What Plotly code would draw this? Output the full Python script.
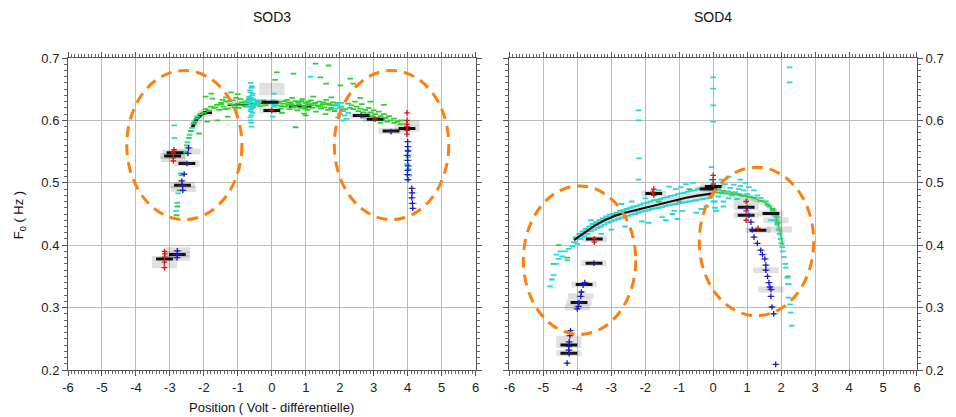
import plotly.graph_objects as go

# ---------------- DATA ----------------
# SOD3 panel
sod3_green_x = [-2.80, -2.78, -2.72, -2.66, -2.60, -2.55, -2.50, -2.44, -2.38, -2.30, -2.22, -2.10, -2.00, -1.95,
                -1.85, -1.80, -1.70, -1.62, -1.55, -1.50, -1.42, -1.35, -1.30, -1.22, -1.15, -1.10, -1.00, -0.92,
                -0.85, -0.80, -0.70, -0.60, -0.50, -0.40, -0.30, -1.95, -1.78, -1.60, -1.35, -1.20, -2.14, -1.90,
                -1.30, -1.00, -1.75, -1.45, -1.05, -0.75,
                -1.65, -1.48, -1.38, -1.25, -1.12, -0.98, -0.88, -0.78, -0.68, -0.55, -0.45, -0.35, -0.25, -0.18,
                0.12, 0.20, 0.25, 0.33, 0.40, 0.45, 0.52, 0.58, 0.63, 0.70, 0.75, 0.80, 0.86, 0.90, 0.95, 1.00,
                1.05, 1.10, 1.15, 1.20, 1.25, 1.30, 1.35, 1.40, 1.45, 1.50, 1.55, 1.60, 1.65, 1.70, 1.75, 1.80,
                1.85, 1.90, 0.30, 0.60, 0.95, 1.22, 1.58, 1.75, 0.50, 0.85, 1.05, 1.38, 1.68,
                0.18, 0.28, 0.38, 0.48, 0.55, 0.68, 0.78, 0.88, 0.98, 1.08, 1.18, 1.28, 1.42, 1.52, 1.62, 1.72,
                1.82, 1.92, 2.05, 2.15,
                2.25, 2.30, 2.35, 2.40, 2.50, 2.55, 2.60, 2.70, 2.75, 2.80, 2.90, 2.95, 3.05, 3.10, 3.20, 3.25,
                3.35, 3.40, 3.50, 3.60, 3.70, 3.80, 2.45, 2.65, 2.85, 3.00, 3.15, 3.30, 3.45, 3.60, 2.70, 3.20,
                0.64, 1.29, 1.67, 1.43, 1.60, 2.02, 2.31, 2.40, 0.10, 0.15, 0.70, 1.00, 2.60, 2.90, 3.30, 3.80]
sod3_green_y = [0.448, 0.462, 0.488, 0.512, 0.530, 0.548, 0.560, 0.572, 0.583, 0.595, 0.603, 0.610, 0.612, 0.618,
                0.615, 0.622, 0.620, 0.625, 0.617, 0.628, 0.622, 0.630, 0.619, 0.626, 0.632, 0.621, 0.627, 0.634,
                0.624, 0.630, 0.628, 0.633, 0.626, 0.631, 0.629, 0.638, 0.643, 0.600, 0.637, 0.645, 0.579, 0.598,
                0.606, 0.642, 0.635, 0.633, 0.636, 0.622,
                0.621, 0.626, 0.618, 0.631, 0.624, 0.620, 0.629, 0.623, 0.634, 0.621, 0.627, 0.623, 0.632, 0.624,
                0.624, 0.630, 0.619, 0.627, 0.622, 0.633, 0.618, 0.626, 0.621, 0.631, 0.616, 0.625, 0.620, 0.634,
                0.623, 0.628, 0.617, 0.626, 0.632, 0.620, 0.627, 0.614, 0.624, 0.630, 0.619, 0.626, 0.621, 0.633,
                0.617, 0.625, 0.620, 0.629, 0.615, 0.624, 0.612, 0.636, 0.611, 0.638, 0.610, 0.637, 0.628, 0.630,
                0.624, 0.622, 0.627,
                0.628, 0.623, 0.631, 0.625, 0.629, 0.622, 0.628, 0.631, 0.619, 0.630, 0.624, 0.628, 0.623, 0.629,
                0.626, 0.618, 0.624, 0.628, 0.622, 0.618,
                0.627, 0.620, 0.624, 0.618, 0.622, 0.615, 0.619, 0.613, 0.617, 0.610, 0.613, 0.607, 0.610, 0.604,
                0.607, 0.601, 0.604, 0.598, 0.600, 0.596, 0.598, 0.594, 0.630, 0.626, 0.620, 0.616, 0.614, 0.610,
                0.607, 0.603, 0.605, 0.596,
                0.675, 0.691, 0.688, 0.669, 0.659, 0.656, 0.667, 0.659, 0.665, 0.677, 0.589, 0.608, 0.636, 0.630,
                0.625, 0.600]
sod3_cyan_x = [-2.82, -2.79, -2.76, -2.72, -2.68, -2.62, -2.56, -2.48, -2.42, -2.35, -2.28, -2.20, -2.87, -2.87,
               -0.62, -0.60, -0.63, -0.58, -0.61, -0.55, -0.65, -0.50, -0.70, -0.60, -0.58, -0.62, -0.60, -0.62,
               -0.60, -0.45, -0.75, -0.40, -0.30, -0.20, -0.66, -0.57,
               -0.64, -0.59, -0.56, -0.66, -0.53, -0.68, -0.61, -0.57, -0.63, -0.60,
               0.06, 0.04, 0.07, 0.05, 0.03, 0.08, 1.14,
               1.90, 2.00, 2.10, 2.00, 2.15, 1.95, 2.20, 2.05, 2.10, 1.85, 2.25, 2.02,
               4.00, 4.02, 3.98, 4.03, 4.05, 3.98]
sod3_cyan_y = [0.455, 0.468, 0.483, 0.497, 0.515, 0.533, 0.550, 0.565, 0.577, 0.588, 0.598, 0.606, 0.592, 0.572,
               0.660, 0.652, 0.645, 0.640, 0.636, 0.634, 0.630, 0.628, 0.627, 0.625, 0.620, 0.615, 0.608, 0.600,
               0.590, 0.632, 0.631, 0.627, 0.630, 0.628, 0.638, 0.622,
               0.648, 0.655, 0.643, 0.637, 0.624, 0.622, 0.618, 0.612, 0.605, 0.596,
               0.643, 0.632, 0.622, 0.614, 0.606, 0.625, 0.670,
               0.625, 0.620, 0.615, 0.610, 0.608, 0.605, 0.603, 0.628, 0.600, 0.618, 0.612, 0.622,
               0.552, 0.541, 0.530, 0.522, 0.512, 0.505]
sod3_blackline_x = [-2.34, -2.20, -2.05, -1.90, -1.76]
sod3_blackline_y = [0.589, 0.603, 0.611, 0.613, 0.613]
sod3_bandline_x = [-1.30, -1.00, -0.70, -0.40, -0.10]
sod3_bandline_y = [0.624, 0.625, 0.626, 0.627, 0.628]
sod3_band2_x = [0.50, 0.80, 1.17]
sod3_band2_y = [0.622, 0.623, 0.622]
sod3_bar_x = [-0.05, 0.00, 2.63, 3.04, 3.51, 3.98, -2.92, -2.85, -2.50, -2.63, -2.78, -3.16]
sod3_bar_y = [0.629, 0.616, 0.608, 0.602, 0.583, 0.587, 0.543, 0.548, 0.531, 0.496, 0.385, 0.378]
sod3_ghost_x = [0.00, 0.00, -2.47, -2.60, -2.78, -2.78, -3.16, 3.98, -2.90]
sod3_ghost_y = [0.655, 0.645, 0.550, 0.490, 0.392, 0.380, 0.368, 0.596, 0.538]
sod3_red_x = [-2.90, -2.90, -2.88, -2.90, 0.00, 3.04, 3.98, 3.98, 3.98, 3.98, 3.98, 3.98,
              -3.16, -3.16, -3.16, -3.16, -3.15]
sod3_red_y = [0.548, 0.540, 0.553, 0.535, 0.616, 0.602, 0.590, 0.584, 0.600, 0.612, 0.578, 0.594,
              0.390, 0.381, 0.373, 0.364, 0.386]
sod3_blue_x = [-2.47, -2.45, -2.50, -2.58, -2.63, -2.62, -2.65, 2.63, 3.51,
               4.00, 4.00, 4.01, 3.99, 4.00, 4.01, 4.00, 3.99, 4.01,
               4.12, 4.13, 4.12, 4.14, 4.15, -2.78, -2.78, -2.79]
sod3_blue_y = [0.547, 0.556, 0.531, 0.514, 0.496, 0.488, 0.503, 0.608, 0.582,
               0.566, 0.558, 0.551, 0.544, 0.536, 0.527, 0.520, 0.513, 0.505,
               0.491, 0.484, 0.476, 0.467, 0.459, 0.385, 0.391, 0.380]

# SOD4 panel
sod4_green_x = [-4.55, -4.30, -4.70, -1.00, -0.70, -2.30, -1.60,
                0.30, 0.60, 0.90, 1.20, 1.40, 1.60, 1.75, 1.85, 1.90, 2.20, 2.22, 0.15, 0.45, 0.75, 1.05]
sod4_green_y = [0.400, 0.380, 0.370, 0.470, 0.490, 0.455, 0.470,
                0.487, 0.484, 0.480, 0.476, 0.471, 0.465, 0.458, 0.447, 0.436, 0.350, 0.338, 0.489, 0.486, 0.482, 0.478]
sod4_cyan_x = [-4.80, -4.75, -4.70, -4.62, -4.55, -4.45, -4.35, -4.25, -4.15, -4.50, -4.62, -4.30,
               -4.10, -4.05, -4.00, -3.95, -3.90, -3.85, -3.80, -3.75, -3.70, -3.65, -3.60, -3.55, -3.50, -3.45,
               -3.40, -3.35, -3.30, -3.25, -3.20, -3.15, -3.10, -3.05, -3.00, -2.95, -2.90, -2.85, -2.80, -2.75,
               -2.70, -2.65, -2.60, -2.55, -2.50, -2.45, -2.40, -2.35, -2.30, -2.25, -2.20, -2.15, -2.10, -2.05,
               -2.00, -1.95, -1.90, -1.85, -1.80, -1.75, -1.70, -1.65, -1.60, -1.55, -1.50, -1.45, -1.40, -1.35,
               -1.30, -1.25, -1.20, -1.15, -1.10, -1.05, -1.00, -0.95, -0.90, -0.85, -0.80, -0.75, -0.70, -0.65,
               -0.60, -0.55, -0.50, -0.45, -0.40, -0.35, -0.30, -0.25, -0.20, -0.15, -0.10,
               -2.60, -2.10, -1.50, -1.20, -0.90, -1.60, -1.30, -0.80, -0.60, -2.00, -2.40, -1.05, -0.35, -1.90,
               -3.00, -3.30, -0.20, -0.05, 0.05, -0.50, -1.10, -1.40, -2.70, -3.60, -1.15, -0.95,
               -2.20, -2.20, -2.18, -2.20, 0.00, 0.00, 0.00, 0.00, 2.25, 2.25, -0.05,
               0.10, 0.15, 0.20, 0.25, 0.30, 0.35, 0.40, 0.45, 0.50, 0.55, 0.60, 0.65, 0.70, 0.75, 0.80, 0.85,
               0.90, 0.95, 1.00, 1.05, 1.10, 0.05, 0.10, 0.30, 0.00, -0.05, 0.00, 0.02, 0.25, 0.45, 0.80, 1.20,
               1.30, 1.40,
               1.55, 1.65, 1.75, 1.80, 1.85, 1.88, 1.92, 1.95, 1.98, 2.00, 2.03, 2.05, 2.08, 2.12, 2.14, 2.18,
               2.20, 2.22, 2.26, 2.28, 2.31, 1.70, 1.90]
sod4_cyan_y = [0.334, 0.345, 0.352, 0.370, 0.378, 0.382, 0.390, 0.394, 0.398, 0.390, 0.385, 0.376,
               0.405, 0.412, 0.402, 0.418, 0.410, 0.422, 0.414, 0.426, 0.418, 0.430, 0.422, 0.434, 0.425, 0.437,
               0.428, 0.440, 0.430, 0.443, 0.433, 0.446, 0.436, 0.449, 0.438, 0.450, 0.440, 0.452, 0.442, 0.455,
               0.444, 0.456, 0.445, 0.458, 0.447, 0.460, 0.449, 0.462, 0.450, 0.463, 0.452, 0.465, 0.454, 0.467,
               0.455, 0.468, 0.456, 0.470, 0.458, 0.472, 0.459, 0.473, 0.460, 0.474, 0.461, 0.476, 0.463, 0.477,
               0.464, 0.479, 0.465, 0.480, 0.466, 0.482, 0.467, 0.483, 0.468, 0.484, 0.469, 0.486, 0.470, 0.487,
               0.471, 0.488, 0.472, 0.490, 0.473, 0.491, 0.474, 0.492, 0.475, 0.494, 0.476,
               0.430, 0.438, 0.445, 0.450, 0.455, 0.488, 0.494, 0.498, 0.500, 0.475, 0.470, 0.442, 0.458, 0.436,
               0.425, 0.418, 0.462, 0.505, 0.470, 0.452, 0.490, 0.440, 0.466, 0.440, 0.455, 0.493,
               0.616, 0.600, 0.539, 0.505, 0.669, 0.651, 0.624, 0.598, 0.685, 0.661, 0.525,
               0.490, 0.478, 0.495, 0.484, 0.470, 0.498, 0.486, 0.475, 0.492, 0.480, 0.497, 0.485, 0.474, 0.490,
               0.495, 0.479, 0.488, 0.500, 0.482, 0.493, 0.478, 0.460, 0.455, 0.462, 0.470, 0.480, 0.490, 0.500,
               0.505, 0.510, 0.505, 0.488, 0.480, 0.476,
               0.470, 0.462, 0.455, 0.448, 0.440, 0.433, 0.425, 0.418, 0.410, 0.403, 0.397, 0.390, 0.381, 0.370,
               0.364, 0.348, 0.338, 0.316, 0.305, 0.292, 0.271, 0.440, 0.445]
sod4_blackline_x = [-4.10, -3.80, -3.50, -3.20, -2.90, -2.60, -2.30, -2.00, -1.70, -1.40, -1.10, -0.80, -0.50,
                    -0.20, 0.00]
sod4_blackline_y = [0.408, 0.420, 0.431, 0.440, 0.447, 0.452, 0.456, 0.461, 0.465, 0.469, 0.473, 0.476, 0.479,
                    0.482, 0.483]
sod4_arm_x = [0.00, 0.67, 1.17, 1.55, 1.79, 1.93, 2.05]
sod4_arm_y = [0.485, 0.481, 0.476, 0.468, 0.456, 0.430, 0.400]
sod4_bar_x = [0.00, -0.15, 0.97, 0.97, 1.32, 1.70, -1.75, -3.50, -3.51, -3.80, -3.95, -4.25, -4.25]
sod4_bar_y = [0.494, 0.490, 0.461, 0.448, 0.424, 0.451, 0.483, 0.410, 0.371, 0.337, 0.308, 0.240, 0.227]
sod4_ghost_x = [1.70, 1.55, -4.00, -3.90, 1.85, 1.95, -4.25, 0.97]
sod4_ghost_y = [0.329, 0.360, 0.300, 0.318, 0.440, 0.425, 0.250, 0.470]
sod4_red_x = [-1.75, -1.75, -1.78, -3.50, -3.50, 0.00, 0.00, 0.00, 0.97, 0.97, 0.97, 1.32]
sod4_red_y = [0.490, 0.480, 0.485, 0.410, 0.405, 0.505, 0.512, 0.498, 0.470, 0.455, 0.440, 0.427]
sod4_blue_x = [-3.51, -3.78, -3.83, -3.88, -3.90, -3.95, -3.97, -4.00, -4.20, -4.22, -4.24, -4.25, -4.25,
               -4.24, -4.30,
               1.00, 1.05, 1.11, 1.15, 1.20, 1.30, 1.40, 1.45, 1.52, 1.55, 1.55, 1.60, 1.64, 1.67, 1.70, 1.70,
               1.73, 1.78, 1.84]
sod4_blue_y = [0.371, 0.340, 0.336, 0.325, 0.318, 0.308, 0.302, 0.298, 0.263, 0.255, 0.245, 0.238, 0.232,
               0.226, 0.211,
               0.460, 0.448, 0.437, 0.425, 0.413, 0.403, 0.392, 0.385, 0.378, 0.368, 0.360, 0.350, 0.340, 0.333,
               0.329, 0.318, 0.301, 0.290, 0.209]

# orange dashed ellipses: [x0, x1, y0, y1]
sod3_ellipses = [[-4.27, -0.88, 0.441, 0.680], [1.84, 5.21, 0.441, 0.680]]
sod4_ellipses = [[-5.59, -2.28, 0.257, 0.495], [-0.41, 2.96, 0.287, 0.525]]

x_ticks = [-6, -5, -4, -3, -2, -1, 0, 1, 2, 3, 4, 5, 6]
y_ticks = [0.2, 0.3, 0.4, 0.5, 0.6, 0.7]

# ---------------- FIGURE ----------------
fig = go.Figure()

GREEN = "#2ccf2c"
CYAN = "#25d8d8"
RED = "#d01818"
BLUE = "#1818c8"


def add_panel(xa, ya, gx, gy, cx, cy, lines, bx, by, hx, hy, rx, ry, blx, bly, cyan_over_black):
    # gray halos
    fig.add_trace(go.Scatter(x=bx + hx, y=by + hy, mode="markers", xaxis=xa, yaxis=ya,
                             marker=dict(symbol="line-ew", size=18,
                                         line=dict(width=6, color="rgba(0,0,0,0.12)")),
                             hoverinfo="skip"))
    for lx, ly, w, col in lines:
        fig.add_trace(go.Scatter(x=lx, y=ly, mode="lines", xaxis=xa, yaxis=ya,
                                 line=dict(color="rgba(0,0,0,0.12)", width=w + 5), hoverinfo="skip"))
    if not cyan_over_black:
        for lx, ly, w, col in lines:
            fig.add_trace(go.Scatter(x=lx, y=ly, mode="lines", xaxis=xa, yaxis=ya,
                                     line=dict(color=col, width=w), hoverinfo="skip"))
    fig.add_trace(go.Scatter(x=gx, y=gy, mode="markers", xaxis=xa, yaxis=ya,
                             marker=dict(symbol="line-ew", size=4, line=dict(width=1.8, color=GREEN))))
    fig.add_trace(go.Scatter(x=cx, y=cy, mode="markers", xaxis=xa, yaxis=ya,
                             marker=dict(symbol="line-ew", size=4, line=dict(width=1.8, color=CYAN))))
    if cyan_over_black:
        for lx, ly, w, col in lines:
            fig.add_trace(go.Scatter(x=lx, y=ly, mode="lines", xaxis=xa, yaxis=ya,
                                     line=dict(color=col, width=w), hoverinfo="skip"))
    fig.add_trace(go.Scatter(x=bx, y=by, mode="markers", xaxis=xa, yaxis=ya,
                             marker=dict(symbol="line-ew", size=12, line=dict(width=3, color="#111"))))
    fig.add_trace(go.Scatter(x=rx, y=ry, mode="markers", xaxis=xa, yaxis=ya,
                             marker=dict(symbol="cross-thin", size=4, line=dict(width=1.3, color=RED))))
    fig.add_trace(go.Scatter(x=blx, y=bly, mode="markers", xaxis=xa, yaxis=ya,
                             error_x=dict(type="constant", value=0.13, color="rgba(90,90,90,0.5)",
                                          thickness=1, width=0),
                             marker=dict(symbol="cross-thin", size=4, line=dict(width=1.3, color=BLUE))))


add_panel("x", "y", sod3_green_x, sod3_green_y, sod3_cyan_x, sod3_cyan_y,
          [(sod3_blackline_x, sod3_blackline_y, 3.5, "#111"), (sod3_bandline_x, sod3_bandline_y, 1.2, "#111"),
           (sod3_band2_x, sod3_band2_y, 2, "#111")],
          sod3_bar_x, sod3_bar_y, sod3_ghost_x, sod3_ghost_y, sod3_red_x, sod3_red_y,
          sod3_blue_x, sod3_blue_y, False)
add_panel("x2", "y2", sod4_green_x, sod4_green_y, sod4_cyan_x, sod4_cyan_y,
          [(sod4_blackline_x, sod4_blackline_y, 2.2, "#111"), (sod4_arm_x, sod4_arm_y, 1.2, GREEN)],
          sod4_bar_x, sod4_bar_y, sod4_ghost_x, sod4_ghost_y, sod4_red_x, sod4_red_y,
          sod4_blue_x, sod4_blue_y, True)

shapes = []
for (xr, yr, ells) in [("x", "y", sod3_ellipses), ("x2", "y2", sod4_ellipses)]:
    for e in ells:
        shapes.append(dict(type="circle", xref=xr, yref=yr, x0=e[0], x1=e[1], y0=e[2], y1=e[3],
                           line=dict(color="#ff7f0e", width=3, dash="11px,7px")))

FONT = "Liberation Sans, Arial, sans-serif"
axis_common = dict(showgrid=True, gridcolor="#bcbcbc", gridwidth=1, zeroline=False,
                   showline=True, linecolor="#555", linewidth=1, mirror="allticks",
                   ticks="outside", ticklen=5, tickcolor="#555", tickwidth=1,
                   tickfont=dict(family=FONT, size=13, color="#222"))
xa = dict(axis_common, range=[-6, 6], tickmode="array", tickvals=x_ticks,
          ticktext=[str(v) for v in x_ticks],
          minor=dict(dtick=0.1, tick0=0, ticks="outside", ticklen=3, tickcolor="#666", showgrid=False))
ya = dict(axis_common, range=[0.2, 0.7], tickmode="array", tickvals=y_ticks,
          ticktext=[f"{v:.1f}" for v in y_ticks],
          minor=dict(dtick=0.01, tick0=0, ticks="outside", ticklen=3, tickcolor="#666", showgrid=False))

fig.update_layout(
    width=956, height=417,
    margin=dict(l=68, r=34, t=58, b=47),
    paper_bgcolor="white", plot_bgcolor="white",
    showlegend=False,
    xaxis=dict(xa, domain=[0, 0.4801], anchor="y"),
    yaxis=dict(ya, domain=[0, 1], anchor="x", side="left"),
    xaxis2=dict(xa, domain=[0.5199, 1], anchor="y2"),
    yaxis2=dict(ya, domain=[0, 1], anchor="x2", side="right"),
    shapes=shapes,
    annotations=[
        dict(text="SOD3", x=0.24, y=1.131, xref="paper", yref="paper", showarrow=False,
             font=dict(family=FONT, size=14, color="#111"), xanchor="center", yanchor="middle"),
        dict(text="SOD4", x=0.76, y=1.131, xref="paper", yref="paper", showarrow=False,
             font=dict(family=FONT, size=14, color="#111"), xanchor="center", yanchor="middle"),
        dict(text="Position ( Volt - différentielle)", x=0.24, y=-0.119, xref="paper", yref="paper",
             showarrow=False, font=dict(family=FONT, size=13, color="#111"),
             xanchor="center", yanchor="middle"),
        dict(text="F<sub>0</sub> ( Hz )", x=-0.0562, y=0.497, xref="paper", yref="paper",
             showarrow=False, textangle=-90, font=dict(family=FONT, size=13, color="#111"),
             xanchor="center", yanchor="middle"),
    ],
)

fig.write_html("out.html", config={"displayModeBar": False},
               post_script="document.body.style.margin='0px';")
